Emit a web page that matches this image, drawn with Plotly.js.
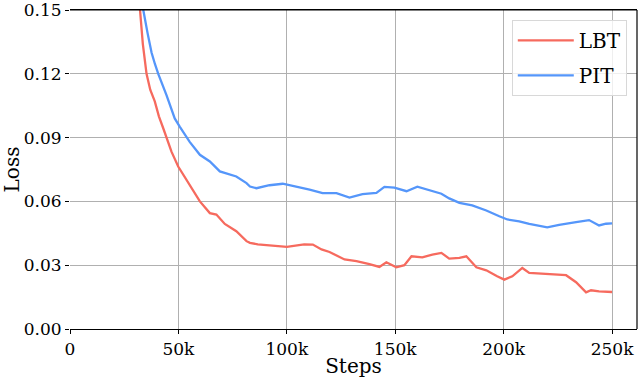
<!DOCTYPE html>
<html>
<head>
<meta charset="utf-8">
<script src="https://cdn.plot.ly/plotly-3.0.1.min.js"></script>
<style>
  html, body { margin: 0; padding: 0; background: #fff; }
  #chart { width: 640px; height: 378px; }
</style>
</head>
<body>
<div id="chart"></div>
<script>
// training loss curves
var lbtSteps = [30500, 32200, 33600, 35300, 37000, 39100, 41000, 43000, 46800, 49900,
    54500, 59900, 64500, 67500, 71400, 76700, 81400, 83000, 86600, 92000,
    100000, 108000, 112000, 116000, 119700, 126600, 132100, 138100, 142700, 145900,
    150500, 154200, 157500, 162500, 167100, 171300, 174900, 179600, 182800, 187400,
    192000, 197000, 200300, 204000, 208600, 211800, 220000, 228800, 233400, 238000,
    240300, 244000, 250000];
var lbtLoss = [0.172, 0.150, 0.134, 0.120, 0.1125, 0.107, 0.100, 0.0944, 0.0834, 0.0764,
    0.0686, 0.0600, 0.0545, 0.0538, 0.0494, 0.0460, 0.0413, 0.0405, 0.0398, 0.0392,
    0.0386, 0.0398, 0.0397, 0.0374, 0.0362, 0.0327, 0.0319, 0.0305, 0.0292, 0.0314,
    0.0290, 0.0300, 0.0342, 0.0337, 0.0350, 0.0358, 0.0331, 0.0334, 0.0342, 0.0290,
    0.0276, 0.0248, 0.0232, 0.0248, 0.0287, 0.0264, 0.0258, 0.0253, 0.0220, 0.0172,
    0.0182, 0.0177, 0.0174];

var pitSteps = [31500, 33800, 35800, 37600, 39200, 40700, 44500, 48300, 50600, 55200,
    59900, 64500, 69100, 73700, 76700, 81400, 83000, 86000, 92000, 98100,
    100400, 105000, 110500, 116500, 122900, 128900, 134900, 141300, 145000, 149600,
    155200, 160200, 165700, 171300, 174900, 179600, 185500, 192000, 198000, 201700,
    207200, 211800, 220100, 225600, 233400, 239400, 244000, 247200, 250000];
var pitLoss = [0.168, 0.150, 0.139, 0.130, 0.1245, 0.120, 0.110, 0.099, 0.0952, 0.0880,
    0.0819, 0.0788, 0.0741, 0.0725, 0.0717, 0.0686, 0.0670, 0.0662, 0.0676, 0.0683,
    0.0678, 0.0670, 0.0655, 0.0639, 0.0639, 0.0618, 0.0634, 0.0640, 0.0668, 0.0665,
    0.0648, 0.0669, 0.0652, 0.0636, 0.0614, 0.0593, 0.0581, 0.0557, 0.0530, 0.0515,
    0.0506, 0.0494, 0.0478, 0.0490, 0.0503, 0.0512, 0.0487, 0.0495, 0.0497];

var xTickVals = [0, 50000, 100000, 150000, 200000, 250000];
var xTickText = ['0', '50k', '100k', '150k', '200k', '250k'];
var yTickVals = [0, 0.03, 0.06, 0.09, 0.12, 0.15];

var serif = 'DejaVu Serif';
var tickFont = {family: serif, size: 17, color: '#000'};
var titleFont = {family: serif, size: 20, color: '#000'};

var lbt = {
    x: lbtSteps, y: lbtLoss,
    type: 'scatter', mode: 'lines', name: 'LBT',
    legendgroup: 'a',
    line: {color: '#f66a5e', width: 2.3}
};

var pit = {
    x: pitSteps, y: pitLoss,
    type: 'scatter', mode: 'lines', name: 'PIT',
    legendgroup: 'b',
    line: {color: '#5596fa', width: 2.3}
};

var layout = {
    width: 640, height: 378,
    margin: {l: 70, r: 3, t: 10, b: 49},
    paper_bgcolor: '#fff', plot_bgcolor: '#fff',
    font: {family: serif, size: 17, color: '#000'},
    showlegend: true,
    legend: {
        x: 0.982, y: 0.969, xanchor: 'right', yanchor: 'top',
        bgcolor: 'rgba(255,255,255,0.8)', bordercolor: '#d8d8d8', borderwidth: 1,
        font: titleFont,
        itemwidth: 56,
        tracegroupgap: 6
    },
    xaxis: {
        range: [0, 261500],
        tickvals: xTickVals, ticktext: xTickText,
        tickfont: tickFont,
        showgrid: true, gridcolor: '#b0b0b0', gridwidth: 1,
        zeroline: false,
        showline: true, linecolor: '#000', linewidth: 1.2, mirror: true,
        ticks: 'outside', ticklen: 4, tickcolor: '#000',
        title: {text: 'Steps', font: titleFont, standoff: 4}
    },
    yaxis: {
        range: [0, 0.15],
        tickvals: yTickVals, tickformat: '.2f',
        tickfont: tickFont,
        ticklabeloverflow: 'allow',
        showgrid: true, gridcolor: '#b0b0b0', gridwidth: 1,
        zeroline: false, showline: false,
        ticks: 'outside', ticklen: 4, tickcolor: '#000',
        title: {text: 'Loss', font: titleFont, standoff: 6}
    },
    shapes: [{
        type: 'line', xref: 'paper', yref: 'paper',
        x0: 1, x1: 1, y0: 0, y1: 1,
        line: {color: '#000', width: 1.2}
    }, {
        type: 'line', xref: 'paper', yref: 'paper',
        x0: 0, x1: 1, y0: 1, y1: 1,
        line: {color: '#000', width: 1.2}
    }]
};

Plotly.newPlot('chart', [lbt, pit], layout, {displayModeBar: false, staticPlot: true});
</script>
</body>
</html>
